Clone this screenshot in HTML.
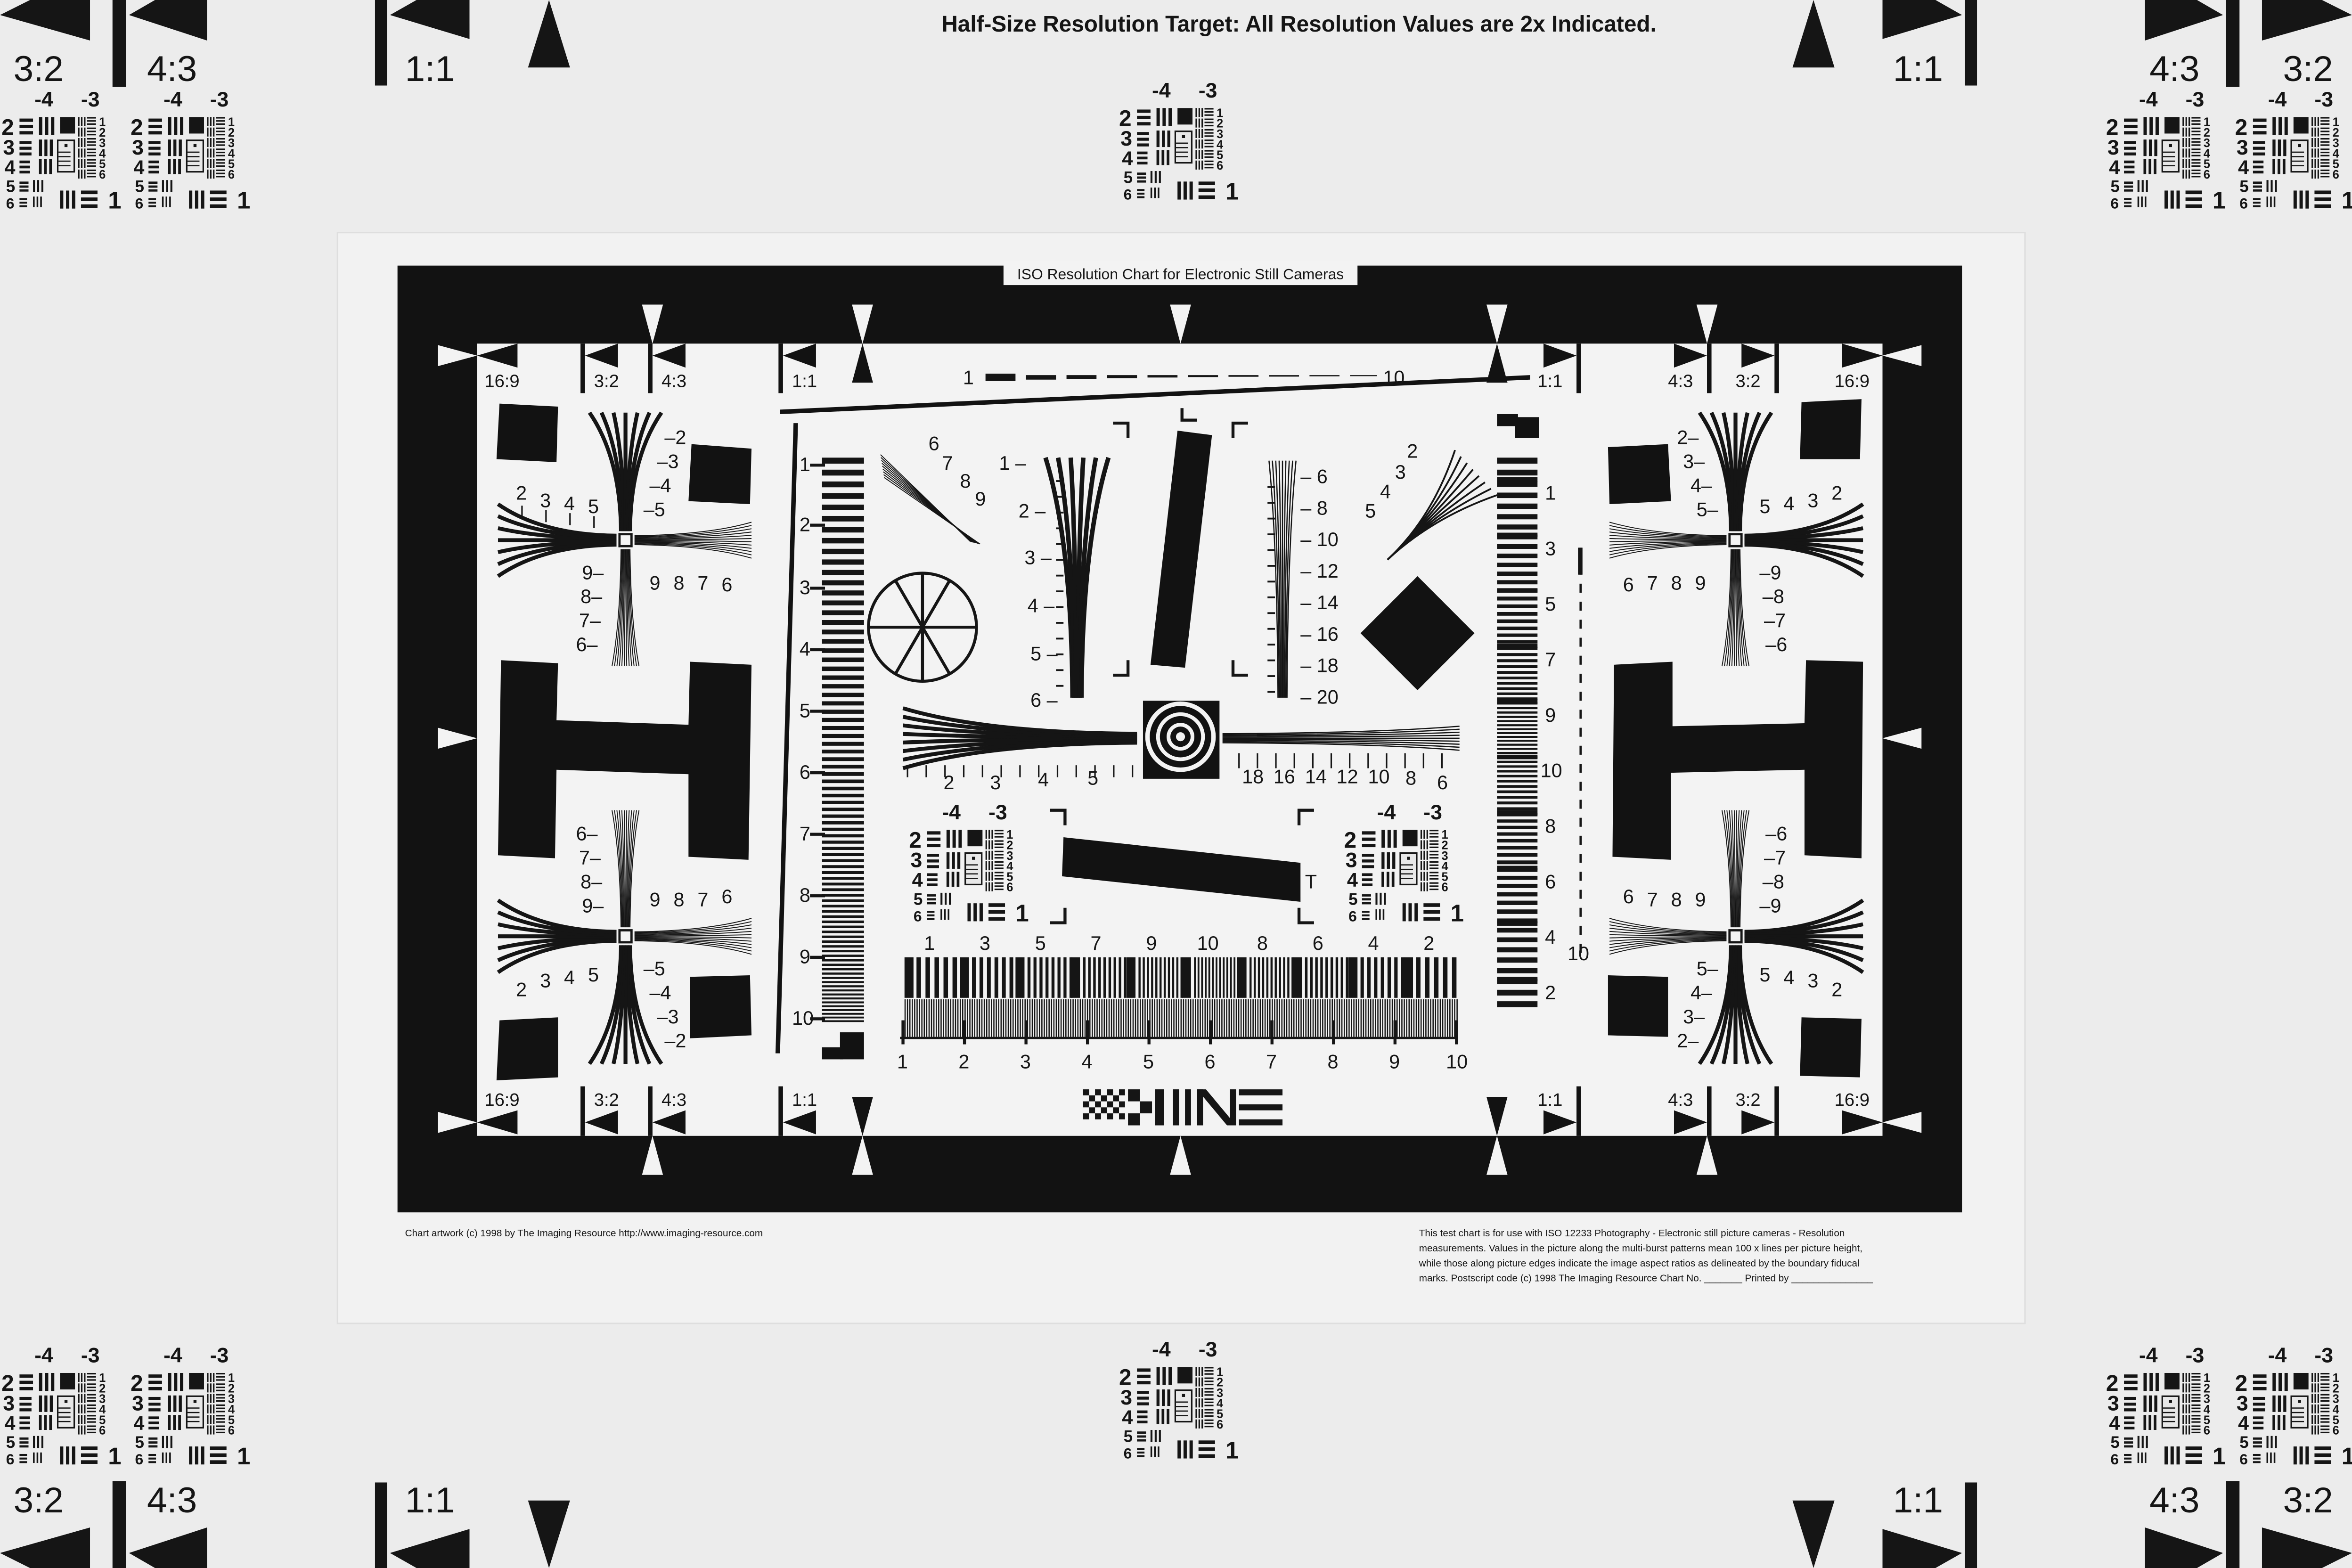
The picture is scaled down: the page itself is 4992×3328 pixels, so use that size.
<!DOCTYPE html>
<html><head><meta charset="utf-8"><style>
html,body{margin:0;padding:0;background:#ececec;}
svg{display:block;}
text{font-family:"Liberation Sans",sans-serif;fill:#151515;}
.l{font-size:13px;}
.s{font-size:11px;}
.b{font-weight:bold;}
</style></head><body>
<svg xmlns="http://www.w3.org/2000/svg" width="4992" height="3328" viewBox="0 0 1568 1045" preserveAspectRatio="none">
<rect x="0" y="0" width="1568" height="1045" fill="#ececec"/>
<g fill="#151515">
<polygon points="0,10 60,-20 60,27"/>
<rect x="75" y="0" width="9" height="58"/>
<polygon points="86,10 138,-20 138,27"/>
<rect x="250" y="0" width="8" height="57"/>
<polygon points="260,10 313,-20 313,26"/>
<polygon points="366,0 352,45 380,45"/>
<polygon points="1568,10 1508,-20 1508,27"/>
<rect x="1484" y="0" width="9" height="58"/>
<polygon points="1482,10 1430,-20 1430,27"/>
<rect x="1310" y="0" width="8" height="57"/>
<polygon points="1308,10 1255,-20 1255,26"/>
<polygon points="1209,0 1195,45 1223,45"/>
<polygon points="0,1035 60,1065 60,1018"/>
<rect x="75" y="987" width="9" height="58"/>
<polygon points="86,1035 138,1065 138,1018"/>
<rect x="250" y="988" width="8" height="57"/>
<polygon points="260,1035 313,1065 313,1019"/>
<polygon points="366,1045 352,1000 380,1000"/>
<polygon points="1568,1035 1508,1065 1508,1018"/>
<rect x="1484" y="987" width="9" height="58"/>
<polygon points="1482,1035 1430,1065 1430,1018"/>
<rect x="1310" y="988" width="8" height="57"/>
<polygon points="1308,1035 1255,1065 1255,1019"/>
<polygon points="1209,1045 1195,1000 1223,1000"/>
</g>
<g style="font-size:24px">
<text x="9" y="54">3:2</text><text x="98" y="54">4:3</text><text x="270" y="54">1:1</text>
<text x="1262" y="54">1:1</text><text x="1433" y="54">4:3</text><text x="1522" y="54">3:2</text>
<text x="9" y="1008">3:2</text><text x="98" y="1008">4:3</text><text x="270" y="1008">1:1</text>
<text x="1262" y="1008">1:1</text><text x="1433" y="1008">4:3</text><text x="1522" y="1008">3:2</text>
</g>
<text x="866" y="21" text-anchor="middle" class="b" style="font-size:15px">Half-Size Resolution Target: All Resolution Values are 2x Indicated.</text>

<rect x="225" y="155" width="1125" height="727" fill="#f2f2f2" stroke="#dedede" stroke-width="1"/>
<rect x="265" y="177" width="1043" height="631" fill="#121212"/>
<rect x="318" y="229" width="937" height="528" fill="#f3f3f3"/>
<rect x="669" y="174" width="236" height="16" fill="#f3f3f3"/>
<text x="787" y="186" text-anchor="middle" style="font-size:10px">ISO Resolution Chart for Electronic Still Cameras</text>
<text x="270" y="824" style="font-size:6.5px">Chart artwork (c) 1998 by The Imaging Resource http://www.imaging-resource.com</text>
<g style="font-size:6.5px">
<text x="946" y="824">This test chart is for use with ISO 12233 Photography - Electronic still picture cameras - Resolution</text>
<text x="946" y="834">measurements. Values in the picture along the multi-burst patterns mean 100 x lines per picture height,</text>
<text x="946" y="844">while those along picture edges indicate the image aspect ratios as delineated by the boundary fiducal</text>
<text x="946" y="854">marks. Postscript code  (c) 1998 The Imaging Resource  Chart No. _______  Printed by _______________</text>
</g>
<g fill="#f3f3f3">
<polygon points="428,203 442,203 435,229"/><polygon points="568,203 582,203 575,229"/>
<polygon points="780,203 794,203 787,229"/><polygon points="991,203 1005,203 998,229"/>
<polygon points="1131,203 1145,203 1138,229"/>
<polygon points="428,783 442,783 435,757"/><polygon points="568,783 582,783 575,757"/>
<polygon points="780,783 794,783 787,757"/><polygon points="991,783 1005,783 998,757"/>
<polygon points="1131,783 1145,783 1138,757"/>
<polygon points="292,230 292,244 318,237"/><polygon points="292,485 292,499 318,492"/><polygon points="292,741 292,755 318,748"/>
<polygon points="1281,230 1281,244 1255,237"/><polygon points="1281,485 1281,499 1255,492"/><polygon points="1281,741 1281,755 1255,748"/>
</g>
<g fill="#121212">
<polygon points="568,255 582,255 575,229"/><polygon points="991,255 1005,255 998,229"/>
<polygon points="568,731 582,731 575,757"/><polygon points="991,731 1005,731 998,757"/>
<polygon points="318,237 345,229 345,245"/><polygon points="1255,237 1228,229 1228,245"/>
<polygon points="318,748 345,740 345,756"/><polygon points="1255,748 1228,740 1228,756"/>
<polygon points="390,237 412,229 412,245"/><polygon points="435,237 457,229 457,245"/><polygon points="522,237 544,229 544,245"/>
<polygon points="1183,237 1161,229 1161,245"/><polygon points="1138,237 1116,229 1116,245"/><polygon points="1051,237 1029,229 1029,245"/>
<polygon points="390,748 412,740 412,756"/><polygon points="435,748 457,740 457,756"/><polygon points="522,748 544,740 544,756"/>
<polygon points="1183,748 1161,740 1161,756"/><polygon points="1138,748 1116,740 1116,756"/><polygon points="1051,748 1029,740 1029,756"/>
<rect x="387" y="229" width="3" height="33"/><rect x="432" y="229" width="3" height="33"/><rect x="519" y="229" width="3" height="33"/>
<rect x="1051" y="229" width="3" height="33"/><rect x="1138" y="229" width="3" height="33"/><rect x="1183" y="229" width="3" height="33"/>
<rect x="387" y="724" width="3" height="33"/><rect x="432" y="724" width="3" height="33"/><rect x="519" y="724" width="3" height="33"/>
<rect x="1051" y="724" width="3" height="33"/><rect x="1138" y="724" width="3" height="33"/><rect x="1183" y="724" width="3" height="33"/>
</g>
<g class="l" style="font-size:12px">
<text x="323" y="258">16:9</text><text x="396" y="258">3:2</text><text x="441" y="258">4:3</text><text x="528" y="258">1:1</text>
<text x="1025" y="258">1:1</text><text x="1112" y="258">4:3</text><text x="1157" y="258">3:2</text><text x="1223" y="258">16:9</text>
<text x="323" y="737">16:9</text><text x="396" y="737">3:2</text><text x="441" y="737">4:3</text><text x="528" y="737">1:1</text>
<text x="1025" y="737">1:1</text><text x="1112" y="737">4:3</text><text x="1157" y="737">3:2</text><text x="1223" y="737">16:9</text>
</g>

<g fill="#121212">
<polygon points="333,269 372,271 371,308 331,306"/>
<polygon points="461,296 501,299 500,336 459,334"/>
<polygon points="1072,298 1112,296 1114,334 1073,336"/>
<polygon points="1201,268 1241,266 1240,306 1200,306"/>
<polygon points="333,680 372,678 372,718 331,720"/>
<polygon points="460,651 500,650 501,690 460,692"/>
<polygon points="1072,650 1112,651 1112,691 1072,690"/>
<polygon points="1201,678 1241,679 1240,718 1200,717"/>
<polygon points="334,440 372,442 371,480 459,483 460,441 501,443 499,573 459,571 459,516 371,513 370,572 332,570"/>
<polygon points="1076,443 1115,441 1115,484 1203,482 1204,440 1242,441 1241,572 1203,570 1203,513 1114,515 1114,573 1075,571"/>
<polygon points="785,287 808,290 790,445 767,443"/>
<polygon points="709,558 867,575 867,601 708,584"/>
<polygon points="945,384 983,422 945,460 907,422"/>
<rect x="762" y="467" width="51" height="52"/>
<polygon points="520,273 1020,250 1020,253 520,276"/>
<polygon points="529,282 532,282 520,702 517,702"/>
<rect x="1010" y="278" width="16" height="14"/><rect x="998" y="276" width="14" height="8"/>
<rect x="560" y="688" width="16" height="18"/><rect x="548" y="698" width="14" height="8"/>
</g>
<circle cx="787" cy="491" r="22" fill="none" stroke="#f3f3f3" stroke-width="3"/>
<circle cx="787" cy="491" r="15" fill="none" stroke="#f3f3f3" stroke-width="2.5"/>
<circle cx="787" cy="491" r="8" fill="none" stroke="#f3f3f3" stroke-width="2.5"/>
<circle cx="787" cy="491" r="3" fill="#f3f3f3"/>
<g fill="none" stroke="#151515" stroke-width="2">
<circle cx="615" cy="418" r="36"/>
<line x1="615" y1="382" x2="615" y2="454"/><line x1="579" y1="418" x2="651" y2="418"/>
<line x1="597" y1="387" x2="633" y2="449"/><line x1="633" y1="387" x2="597" y2="449"/>
<polyline points="742,282 752,282 752,292" /><polyline points="822,292 822,282 832,282"/>
<polyline points="742,450 752,450 752,440" /><polyline points="822,440 822,450 832,450"/>
<polyline points="700,540 710,540 710,550"/><polyline points="866,550 866,540 876,540"/>
<polyline points="700,615 710,615 710,605"/><polyline points="866,605 866,615 876,615"/>
<polyline points="788,272 788,280 798,280"/>
</g>
<text x="870" y="592" class="l">T</text>

<text x="642" y="256" class="l">1</text><text x="922" y="256" class="l">10</text>
<g fill="#151515">
<rect x="657" y="249" width="20" height="5"/><rect x="684" y="250" width="20" height="3"/><rect x="711" y="250" width="20" height="2.5"/>
<rect x="738" y="250" width="20" height="2"/><rect x="765" y="250" width="20" height="1.6"/><rect x="792" y="250" width="20" height="1.3"/>
<rect x="819" y="250" width="20" height="1.1"/><rect x="846" y="250" width="20" height="1"/><rect x="873" y="250" width="20" height="0.8"/><rect x="900" y="250" width="18" height="0.7"/>
</g>

<g id="gen"></g>

<g class="l">
<text x="344" y="333">2</text><text x="360" y="338">3</text><text x="376" y="340">4</text><text x="392" y="342">5</text>
<text x="443" y="296">–2</text><text x="438" y="312">–3</text><text x="433" y="328">–4</text><text x="429" y="344">–5</text>
<text x="433" y="393">9</text><text x="449" y="393">8</text><text x="465" y="393">7</text><text x="481" y="394">6</text>
<text x="388" y="386">9–</text><text x="387" y="402">8–</text><text x="386" y="418">7–</text><text x="384" y="434">6–</text>
<text x="384" y="560">6–</text><text x="386" y="576">7–</text><text x="387" y="592">8–</text><text x="388" y="608">9–</text>
<text x="433" y="604">9</text><text x="449" y="604">8</text><text x="465" y="604">7</text><text x="481" y="602">6</text>
<text x="344" y="664">2</text><text x="360" y="658">3</text><text x="376" y="656">4</text><text x="392" y="654">5</text>
<text x="429" y="650">–5</text><text x="433" y="666">–4</text><text x="438" y="682">–3</text><text x="443" y="698">–2</text>
<text x="1118" y="296">2–</text><text x="1122" y="312">3–</text><text x="1127" y="328">4–</text><text x="1131" y="344">5–</text>
<text x="1173" y="342">5</text><text x="1189" y="340">4</text><text x="1205" y="338">3</text><text x="1221" y="333">2</text>
<text x="1082" y="394">6</text><text x="1098" y="393">7</text><text x="1114" y="393">8</text><text x="1130" y="393">9</text>
<text x="1173" y="386">–9</text><text x="1175" y="402">–8</text><text x="1176" y="418">–7</text><text x="1177" y="434">–6</text>
<text x="1177" y="560">–6</text><text x="1176" y="576">–7</text><text x="1175" y="592">–8</text><text x="1173" y="608">–9</text>
<text x="1082" y="602">6</text><text x="1098" y="604">7</text><text x="1114" y="604">8</text><text x="1130" y="604">9</text>
<text x="1131" y="650">5–</text><text x="1127" y="666">4–</text><text x="1122" y="682">3–</text><text x="1118" y="698">2–</text>
<text x="1173" y="654">5</text><text x="1189" y="656">4</text><text x="1205" y="658">3</text><text x="1221" y="664">2</text>
<text x="619" y="300">6</text><text x="628" y="313">7</text><text x="640" y="325">8</text><text x="650" y="337">9</text>
<text x="938" y="305">2</text><text x="930" y="319">3</text><text x="920" y="332">4</text><text x="910" y="345">5</text>
<text x="666" y="313">1 –</text><text x="679" y="345">2 –</text><text x="683" y="376">3 –</text><text x="685" y="408">4 –</text><text x="687" y="440">5 –</text><text x="687" y="471">6 –</text>
<text x="867" y="322">– 6</text><text x="867" y="343">– 8</text><text x="867" y="364">– 10</text><text x="867" y="385">– 12</text>
<text x="867" y="406">– 14</text><text x="867" y="427">– 16</text><text x="867" y="448">– 18</text><text x="867" y="469">– 20</text>
<text x="629" y="526">2</text><text x="660" y="526">3</text><text x="692" y="524">4</text><text x="725" y="523">5</text>
<text x="828" y="522">18</text><text x="849" y="522">16</text><text x="870" y="522">14</text><text x="891" y="522">12</text><text x="912" y="522">10</text><text x="937" y="523">8</text><text x="958" y="526">6</text>
<text x="533" y="314">1</text><text x="533" y="354">2</text><text x="533" y="396">3</text><text x="533" y="437">4</text><text x="533" y="478">5</text>
<text x="533" y="519">6</text><text x="533" y="560">7</text><text x="533" y="601">8</text><text x="533" y="642">9</text><text x="528" y="683">10</text>
<text x="1030" y="333">1</text><text x="1030" y="370">3</text><text x="1030" y="407">5</text><text x="1030" y="444">7</text><text x="1030" y="481">9</text>
<text x="1027" y="518">10</text><text x="1030" y="555">8</text><text x="1030" y="592">6</text><text x="1030" y="629">4</text><text x="1030" y="666">2</text>
<text x="1045" y="640">10</text>
<text x="616" y="633">1</text><text x="653" y="633">3</text><text x="690" y="633">5</text><text x="727" y="633">7</text><text x="764" y="633">9</text>
<text x="798" y="633">10</text><text x="838" y="633">8</text><text x="875" y="633">6</text><text x="912" y="633">4</text><text x="949" y="633">2</text>
<text x="598" y="712">1</text><text x="639" y="712">2</text><text x="680" y="712">3</text><text x="721" y="712">4</text><text x="762" y="712">5</text>
<text x="803" y="712">6</text><text x="844" y="712">7</text><text x="885" y="712">8</text><text x="926" y="712">9</text><text x="964" y="712">10</text>
</g>

<g fill="#151515">
<rect x="722" y="726" width="4" height="4"/><rect x="730" y="726" width="4" height="4"/><rect x="738" y="726" width="4" height="4"/><rect x="746" y="726" width="4" height="4"/>
<rect x="726" y="730" width="4" height="4"/><rect x="734" y="730" width="4" height="4"/><rect x="742" y="730" width="4" height="4"/>
<rect x="722" y="734" width="4" height="4"/><rect x="730" y="734" width="4" height="4"/><rect x="738" y="734" width="4" height="4"/><rect x="746" y="734" width="4" height="4"/>
<rect x="726" y="738" width="4" height="4"/><rect x="734" y="738" width="4" height="4"/><rect x="742" y="738" width="4" height="4"/>
<rect x="722" y="742" width="4" height="4"/><rect x="730" y="742" width="4" height="4"/><rect x="738" y="742" width="4" height="4"/><rect x="746" y="742" width="4" height="4"/>
<rect x="752" y="726" width="8" height="8"/><rect x="760" y="734" width="8" height="8"/><rect x="752" y="742" width="8" height="8"/>
<rect x="770" y="726" width="6" height="24"/><rect x="782" y="726" width="4" height="24"/><rect x="790" y="726" width="4" height="24"/>
<polygon points="798,726 804,726 824,750 818,750"/><rect x="798" y="726" width="4" height="24"/><rect x="820" y="726" width="4" height="24"/>
<polygon points="826,726 855,726 855,730 826,730"/><polygon points="826,736 855,736 855,740 826,740"/><polygon points="826,746 855,746 855,750 826,750"/>
</g>

<g id="tiles"></g>
<g class="b">
<g transform="translate(0,53)"><text x="23" y="18" style="font-size:14px">-4</text><text x="54" y="18" style="font-size:14px">-3</text><text x="1" y="37" style="font-size:15px">2</text><text x="2" y="50" style="font-size:14px">3</text><text x="3" y="63" style="font-size:13px">4</text><text x="4" y="75" style="font-size:11px">5</text><text x="4" y="86" style="font-size:10px">6</text><text x="66" y="31" style="font-size:8px">1</text><text x="66" y="38" style="font-size:8px">2</text><text x="66" y="45" style="font-size:8px">3</text><text x="66" y="52" style="font-size:8px">4</text><text x="66" y="59" style="font-size:8px">5</text><text x="66" y="66" style="font-size:8px">6</text><text x="72" y="86" style="font-size:16px">1</text></g>
<g transform="translate(86,53)"><text x="23" y="18" style="font-size:14px">-4</text><text x="54" y="18" style="font-size:14px">-3</text><text x="1" y="37" style="font-size:15px">2</text><text x="2" y="50" style="font-size:14px">3</text><text x="3" y="63" style="font-size:13px">4</text><text x="4" y="75" style="font-size:11px">5</text><text x="4" y="86" style="font-size:10px">6</text><text x="66" y="31" style="font-size:8px">1</text><text x="66" y="38" style="font-size:8px">2</text><text x="66" y="45" style="font-size:8px">3</text><text x="66" y="52" style="font-size:8px">4</text><text x="66" y="59" style="font-size:8px">5</text><text x="66" y="66" style="font-size:8px">6</text><text x="72" y="86" style="font-size:16px">1</text></g>
<g transform="translate(745,47)"><text x="23" y="18" style="font-size:14px">-4</text><text x="54" y="18" style="font-size:14px">-3</text><text x="1" y="37" style="font-size:15px">2</text><text x="2" y="50" style="font-size:14px">3</text><text x="3" y="63" style="font-size:13px">4</text><text x="4" y="75" style="font-size:11px">5</text><text x="4" y="86" style="font-size:10px">6</text><text x="66" y="31" style="font-size:8px">1</text><text x="66" y="38" style="font-size:8px">2</text><text x="66" y="45" style="font-size:8px">3</text><text x="66" y="52" style="font-size:8px">4</text><text x="66" y="59" style="font-size:8px">5</text><text x="66" y="66" style="font-size:8px">6</text><text x="72" y="86" style="font-size:16px">1</text></g>
<g transform="translate(1403,53)"><text x="23" y="18" style="font-size:14px">-4</text><text x="54" y="18" style="font-size:14px">-3</text><text x="1" y="37" style="font-size:15px">2</text><text x="2" y="50" style="font-size:14px">3</text><text x="3" y="63" style="font-size:13px">4</text><text x="4" y="75" style="font-size:11px">5</text><text x="4" y="86" style="font-size:10px">6</text><text x="66" y="31" style="font-size:8px">1</text><text x="66" y="38" style="font-size:8px">2</text><text x="66" y="45" style="font-size:8px">3</text><text x="66" y="52" style="font-size:8px">4</text><text x="66" y="59" style="font-size:8px">5</text><text x="66" y="66" style="font-size:8px">6</text><text x="72" y="86" style="font-size:16px">1</text></g>
<g transform="translate(1489,53)"><text x="23" y="18" style="font-size:14px">-4</text><text x="54" y="18" style="font-size:14px">-3</text><text x="1" y="37" style="font-size:15px">2</text><text x="2" y="50" style="font-size:14px">3</text><text x="3" y="63" style="font-size:13px">4</text><text x="4" y="75" style="font-size:11px">5</text><text x="4" y="86" style="font-size:10px">6</text><text x="66" y="31" style="font-size:8px">1</text><text x="66" y="38" style="font-size:8px">2</text><text x="66" y="45" style="font-size:8px">3</text><text x="66" y="52" style="font-size:8px">4</text><text x="66" y="59" style="font-size:8px">5</text><text x="66" y="66" style="font-size:8px">6</text><text x="72" y="86" style="font-size:16px">1</text></g>
<g transform="translate(0,890)"><text x="23" y="18" style="font-size:14px">-4</text><text x="54" y="18" style="font-size:14px">-3</text><text x="1" y="37" style="font-size:15px">2</text><text x="2" y="50" style="font-size:14px">3</text><text x="3" y="63" style="font-size:13px">4</text><text x="4" y="75" style="font-size:11px">5</text><text x="4" y="86" style="font-size:10px">6</text><text x="66" y="31" style="font-size:8px">1</text><text x="66" y="38" style="font-size:8px">2</text><text x="66" y="45" style="font-size:8px">3</text><text x="66" y="52" style="font-size:8px">4</text><text x="66" y="59" style="font-size:8px">5</text><text x="66" y="66" style="font-size:8px">6</text><text x="72" y="86" style="font-size:16px">1</text></g>
<g transform="translate(86,890)"><text x="23" y="18" style="font-size:14px">-4</text><text x="54" y="18" style="font-size:14px">-3</text><text x="1" y="37" style="font-size:15px">2</text><text x="2" y="50" style="font-size:14px">3</text><text x="3" y="63" style="font-size:13px">4</text><text x="4" y="75" style="font-size:11px">5</text><text x="4" y="86" style="font-size:10px">6</text><text x="66" y="31" style="font-size:8px">1</text><text x="66" y="38" style="font-size:8px">2</text><text x="66" y="45" style="font-size:8px">3</text><text x="66" y="52" style="font-size:8px">4</text><text x="66" y="59" style="font-size:8px">5</text><text x="66" y="66" style="font-size:8px">6</text><text x="72" y="86" style="font-size:16px">1</text></g>
<g transform="translate(745,886)"><text x="23" y="18" style="font-size:14px">-4</text><text x="54" y="18" style="font-size:14px">-3</text><text x="1" y="37" style="font-size:15px">2</text><text x="2" y="50" style="font-size:14px">3</text><text x="3" y="63" style="font-size:13px">4</text><text x="4" y="75" style="font-size:11px">5</text><text x="4" y="86" style="font-size:10px">6</text><text x="66" y="31" style="font-size:8px">1</text><text x="66" y="38" style="font-size:8px">2</text><text x="66" y="45" style="font-size:8px">3</text><text x="66" y="52" style="font-size:8px">4</text><text x="66" y="59" style="font-size:8px">5</text><text x="66" y="66" style="font-size:8px">6</text><text x="72" y="86" style="font-size:16px">1</text></g>
<g transform="translate(1403,890)"><text x="23" y="18" style="font-size:14px">-4</text><text x="54" y="18" style="font-size:14px">-3</text><text x="1" y="37" style="font-size:15px">2</text><text x="2" y="50" style="font-size:14px">3</text><text x="3" y="63" style="font-size:13px">4</text><text x="4" y="75" style="font-size:11px">5</text><text x="4" y="86" style="font-size:10px">6</text><text x="66" y="31" style="font-size:8px">1</text><text x="66" y="38" style="font-size:8px">2</text><text x="66" y="45" style="font-size:8px">3</text><text x="66" y="52" style="font-size:8px">4</text><text x="66" y="59" style="font-size:8px">5</text><text x="66" y="66" style="font-size:8px">6</text><text x="72" y="86" style="font-size:16px">1</text></g>
<g transform="translate(1489,890)"><text x="23" y="18" style="font-size:14px">-4</text><text x="54" y="18" style="font-size:14px">-3</text><text x="1" y="37" style="font-size:15px">2</text><text x="2" y="50" style="font-size:14px">3</text><text x="3" y="63" style="font-size:13px">4</text><text x="4" y="75" style="font-size:11px">5</text><text x="4" y="86" style="font-size:10px">6</text><text x="66" y="31" style="font-size:8px">1</text><text x="66" y="38" style="font-size:8px">2</text><text x="66" y="45" style="font-size:8px">3</text><text x="66" y="52" style="font-size:8px">4</text><text x="66" y="59" style="font-size:8px">5</text><text x="66" y="66" style="font-size:8px">6</text><text x="72" y="86" style="font-size:16px">1</text></g>
<g transform="translate(605,528)"><text x="23" y="18" style="font-size:14px">-4</text><text x="54" y="18" style="font-size:14px">-3</text><text x="1" y="37" style="font-size:15px">2</text><text x="2" y="50" style="font-size:14px">3</text><text x="3" y="63" style="font-size:13px">4</text><text x="4" y="75" style="font-size:11px">5</text><text x="4" y="86" style="font-size:10px">6</text><text x="66" y="31" style="font-size:8px">1</text><text x="66" y="38" style="font-size:8px">2</text><text x="66" y="45" style="font-size:8px">3</text><text x="66" y="52" style="font-size:8px">4</text><text x="66" y="59" style="font-size:8px">5</text><text x="66" y="66" style="font-size:8px">6</text><text x="72" y="86" style="font-size:16px">1</text></g>
<g transform="translate(895,528)"><text x="23" y="18" style="font-size:14px">-4</text><text x="54" y="18" style="font-size:14px">-3</text><text x="1" y="37" style="font-size:15px">2</text><text x="2" y="50" style="font-size:14px">3</text><text x="3" y="63" style="font-size:13px">4</text><text x="4" y="75" style="font-size:11px">5</text><text x="4" y="86" style="font-size:10px">6</text><text x="66" y="31" style="font-size:8px">1</text><text x="66" y="38" style="font-size:8px">2</text><text x="66" y="45" style="font-size:8px">3</text><text x="66" y="52" style="font-size:8px">4</text><text x="66" y="59" style="font-size:8px">5</text><text x="66" y="66" style="font-size:8px">6</text><text x="72" y="86" style="font-size:16px">1</text></g>
</g>
</svg>
<script>
(function(){
var NS="http://www.w3.org/2000/svg";
var g=document.getElementById("gen"), tg=document.getElementById("tiles");
var C="#151515";
function el(p,n,a){var e=document.createElementNS(NS,n);for(var k in a)e.setAttribute(k,a[k]);p.appendChild(e);return e;}
function R(p,x,y,w,h,f){el(p,"rect",{x:x,y:y,width:w,height:h,fill:f||C});}
function L(x1,y1,x2,y2,w,c){el(g,"line",{x1:x1,y1:y1,x2:x2,y2:y2,stroke:c||C,"stroke-width":w});}
function fan(cx,cy,ax,ay,len,spread,n,w,start){
  var px=-ay,py=ax; start=start||6;
  for(var i=0;i<n;i++){var t=-1+2*i/(n-1);
    function P(u,v){return (cx+u*ax+v*px).toFixed(2)+","+(cy+u*ay+v*py).toFixed(2);}
    var d="M"+P(start,t*3)+" Q"+P(len*0.65,t*3.5)+" "+P(len,t*spread);
    el(g,"path",{d:d,fill:"none",stroke:C,"stroke-width":w});}
}
function star(cx,cy,thick){
  var dirs={u:[0,-1],d:[0,1],l:[-1,0],r:[1,0]};
  for(var k in dirs){var a=dirs[k];
    if(thick.indexOf(k)>=0) fan(cx,cy,a[0],a[1],85,24,7,2.6);
    else fan(cx,cy,a[0],a[1],84,(k=="u"||k=="d")?9:12,12,0.6);}
  el(g,"rect",{x:cx-4,y:cy-4,width:8,height:8,fill:"#f3f3f3",stroke:C,"stroke-width":1.5});
}
star(417,360,"ul");star(417,624,"dl");star(1157,360,"ur");star(1157,624,"dr");
[[348,339],[364,342],[380,344],[396,346]].forEach(function(p){L(p[0],p[1]-2,p[0],p[1]+6,1);});
fan(760,492,-1,0,158,20,8,2.6,2);
fan(813,492,1,0,160,8,9,0.8,2);
for(var x=605;x<760;x+=12.5)L(x,510,x,518,1);
for(var x=826;x<972;x+=12.3)L(x,502,x,512,1);
fan(718,467,0,-1,162,21,6,3,2);
fan(855,467,0,-1,160,9,9,0.8,2);
for(var y=320;y<466;y+=10.5){R(g,704,y,5,1.2);R(g,845,y+4,5,1.2);}
for(var k=0;k<9;k++){L(587+k*0.3,303+k*1.9,647+k*0.8,361-k*0.2+k*0.4,0.6);}
for(var k=0;k<8;k++){var t=k/7;el(g,"path",{d:"M925,373 Q955,345 "+(970+t*28)+","+(300+t*30),fill:"none",stroke:C,"stroke-width":1.2});}
var y=305;while(y<680){var p=8-5.6*(y-305)/375;R(g,548,y,28,p/2);y+=p;}
[310,350,392,433,474,515,556,597,638,679].forEach(function(v){R(g,540,v-1,10,2);});
y=305;while(y<672){var q=(y-305)/367;var p=2.5+5.5*Math.abs(q-0.5)*2;R(g,998,y,27,p/2);y+=p;}
for(var yy=318;yy<672;yy+=37){R(g,998,yy,27,3);}
for(var yy=365;yy<640;yy+=12){R(g,1053,yy,1.5,6);}
R(g,1052,365,3,18);
for(var i=0;i<10;i++){var x0=603+i*37;var per=[6,5,4,3.4,2.8,2.4,2.8,3.4,4.5,6][i];
  R(g,x0,638,6,27);
  for(var x=x0+8;x<x0+37;x+=per)R(g,x,638,per/2,27);}
for(var x=603;x<972;x+=1.6){R(g,x,666,0.8,25);}
R(g,600,691,372,1.5);
for(var i=0;i<10;i++){R(g,601+i*41,680,2,16);}
function tile(ox,oy){
  var T=tg;
  function r(x,y,w,h){R(T,ox+x,oy+y,w,h);}
  for(var j=0;j<3;j++){r(13,26+j*4.2,9,2.2);r(26+j*4,25,2.2,12);}
  r(40,25,10,11);
  for(var j=0;j<3;j++){r(13,41+j*3.8,8,2);r(26+j*3.6,40,2,11);}
  for(var j=0;j<3;j++){r(13,54+j*3.4,7,1.8);r(26+j*3.4,53,1.8,10);}
  for(var j=0;j<3;j++){r(13,68+j*2.6,6,1.5);r(22+j*2.8,67,1.3,8);}
  for(var j=0;j<3;j++){r(13,79+j*2.4,5,1.3);r(22+j*2.4,78,1.1,7);}
  for(var j=0;j<3;j++){r(40+j*4,74,2.2,12);r(54,74+j*4.6,11,2.4);}
  for(var row=0;row<6;row++){for(var j=0;j<3;j++){r(52+j*2,25+row*7,1,6);r(58,25+row*7+j*2.1,6,1);}}
  r(38,40,12,22);
  R(T,ox+39,oy+41,10,20,"#e8e8e8");
  r(43,43,2,2);
  for(var j=0;j<4;j++)r(39,48+j*3,8,0.8);
}
[[0,53],[86,53],[745,47],[1403,53],[1489,53],[0,890],[86,890],[745,886],[1403,890],[1489,890],[605,528],[895,528]].forEach(function(p){tile(p[0],p[1]);});
})();
</script>
</body></html>
